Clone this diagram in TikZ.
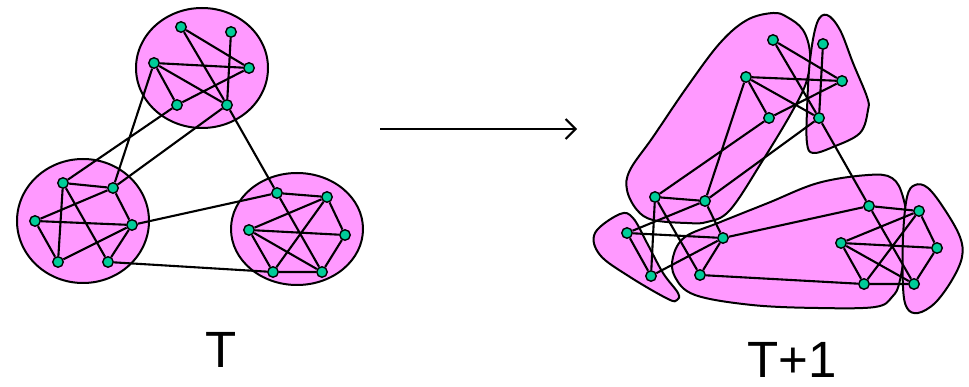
\documentclass[tikz,border=0pt]{standalone}
\usepackage{fontspec}
\setmainfont{Liberation Sans}
\usetikzlibrary{arrows.meta}
\pgfdeclarelayer{grplayer}
\pgfdeclarelayer{edglayer}
\pgfsetlayers{grplayer,edglayer,main}
\definecolor{blobpink}{RGB}{255,153,255}
\definecolor{vgreen}{RGB}{0,204,153}
\tikzset{
  vtx/.style={circle,draw=black,fill=vgreen,line width=1.4pt,inner sep=0pt,minimum size=10.5pt},
  grp/.style={draw=black,fill=blobpink,line width=2pt},
  edg/.style={draw=black,line width=2.1pt},
  lbl/.style={inner sep=0pt,font=\fontsize{51}{58}\selectfont}
}
\begin{document}
\begin{tikzpicture}[x=1pt,y=-1pt]
\useasboundingbox (0,0) rectangle (969,387);
% ---- left: vertices
\node[vtx] (a1) at (181,27) {};
\node[vtx] (a2) at (231,32) {};
\node[vtx] (a3) at (154,63) {};
\node[vtx] (a4) at (249,68) {};
\node[vtx] (a5) at (177,105) {};
\node[vtx] (a6) at (227,105) {};
\node[vtx] (b1) at (63,183) {};
\node[vtx] (b2) at (113,188) {};
\node[vtx] (b3) at (35,221) {};
\node[vtx] (b4) at (132,225) {};
\node[vtx] (b5) at (58,262) {};
\node[vtx] (b6) at (108,262) {};
\node[vtx] (c1) at (277,193) {};
\node[vtx] (c2) at (327,197) {};
\node[vtx] (c3) at (249,230) {};
\node[vtx] (c4) at (345,235) {};
\node[vtx] (c5) at (273,272) {};
\node[vtx] (c6) at (322,272) {};
% ---- right: vertices
\node[vtx] (d1) at (773,40) {};
\node[vtx] (d2) at (823,44) {};
\node[vtx] (d3) at (746,77) {};
\node[vtx] (d4) at (842,81) {};
\node[vtx] (d5) at (769,118) {};
\node[vtx] (d6) at (819,118) {};
\node[vtx] (d7) at (655,197) {};
\node[vtx] (d8) at (705,201) {};
\node[vtx] (e1) at (627,233) {};
\node[vtx] (e2) at (723,238) {};
\node[vtx] (e3) at (651,276) {};
\node[vtx] (e4) at (700,275) {};
\node[vtx] (d9) at (869,206) {};
\node[vtx] (f1) at (919,211) {};
\node[vtx] (f2) at (841,243) {};
\node[vtx] (f3) at (937,248) {};
\node[vtx] (f4) at (864,284) {};
\node[vtx] (f5) at (914,284) {};
% ---- groups
\begin{pgfonlayer}{grplayer}
\path[grp] (202,68) ellipse [x radius=66, y radius=60];
\path[grp] (83,221) ellipse [x radius=66, y radius=62];
\path[grp] (297,229) ellipse [x radius=66, y radius=56];
\path[grp] plot[smooth cycle,tension=0.6] coordinates {(773,13) (787,17) (803,30) (810,53) (807,80) (793,110) (763,160) (730,210) (707,222) (687,223) (653,220) (637,210) (627,190) (630,170) (653,137) (687,87) (720,43) (747,20)};
\path[grp] plot[smooth cycle,tension=0.6] coordinates {(827,15) (840,30) (853,63) (867,97) (868,110) (860,133) (833,147) (813,153) (807,143) (807,110) (810,60) (817,23)};
\path[grp] plot[smooth cycle,tension=0.6] coordinates {(620,214) (633,218) (647,243) (663,273) (678,293) (677,300) (668,299) (630,277) (600,255) (595,233)};
\path[grp] plot[smooth cycle,tension=0.6] coordinates {(673,257) (685,237) (718,223) (768,203) (818,183) (868,175) (892,178) (903,197) (907,230) (900,280) (892,297) (875,307) (818,308) (752,305) (695,295) (675,277)};
\path[grp] plot[smooth cycle,tension=0.6] coordinates {(915,185) (928,188) (945,210) (960,237) (962,257) (952,280) (935,303) (918,313) (907,308) (903,287) (903,237) (907,197)};
\end{pgfonlayer}
% ---- edges
\begin{pgfonlayer}{edglayer}
\path[edg] (a1)--(a4) (a1)--(a6) (a2)--(a6) (a3)--(a4) (a3)--(a5) (a3)--(a6) (a5)--(a4)
  (b1)--(b2) (b1)--(b5) (b1)--(b6) (b3)--(b2) (b3)--(b4) (b3)--(b5) (b4)--(b2) (b4)--(b5) (b4)--(b6)
  (c1)--(c2) (c1)--(c6) (c3)--(c2) (c3)--(c4) (c3)--(c5) (c3)--(c6) (c2)--(c4) (c2)--(c5) (c4)--(c6) (c5)--(c6)
  (a3)--(b2) (a5)--(b1) (a6)--(b2) (a6)--(c1) (b4)--(c1) (b6)--(c5);
\path[edg] (d1)--(d4) (d1)--(d6) (d2)--(d6) (d3)--(d4) (d3)--(d5) (d3)--(d6) (d5)--(d4)
  (d7)--(d8) (d7)--(e3) (d7)--(e4) (e1)--(d8) (e1)--(e2) (e1)--(e3) (e2)--(d8) (e2)--(e3) (e2)--(e4)
  (d9)--(f1) (d9)--(f5) (f2)--(f1) (f2)--(f3) (f2)--(f4) (f2)--(f5) (f1)--(f3) (f1)--(f4) (f3)--(f5) (f4)--(f5)
  (d3)--(d8) (d5)--(d7) (d6)--(d8) (d6)--(d9) (e2)--(d9) (e4)--(f4);
\end{pgfonlayer}
% ---- arrow and labels
\coordinate (arrS) at (380,129);
\coordinate (arrE) at (577,129);
\draw[line width=2.1pt,-{Straight Barb[length=10pt,width=20pt,line width=2.1pt]}] (arrS) -- (arrE);
\node[lbl] (lT) at (221,350) {T};
\node[lbl] (lT1) at (792,360) {T+1};
\end{tikzpicture}
\end{document}
